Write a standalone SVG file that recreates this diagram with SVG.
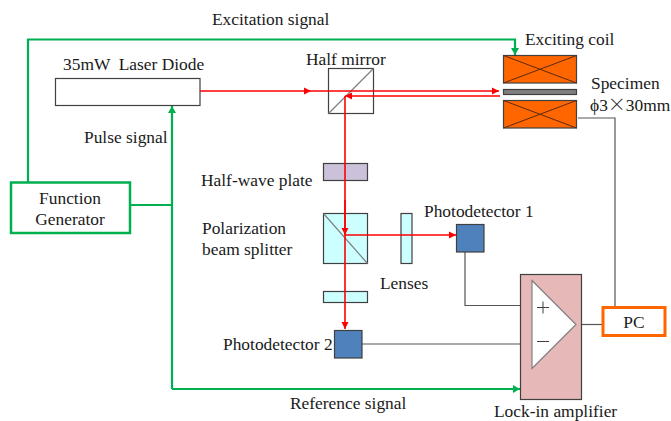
<svg xmlns="http://www.w3.org/2000/svg" width="671" height="421" viewBox="0 0 671 421">
<style>
text{font-family:"Liberation Serif","Times New Roman",serif;font-size:17.4px;fill:#1a1a1a}
.m{text-anchor:middle}
.box{stroke:#404040;stroke-width:1.2}
.diag{stroke:#808080;stroke-width:1.2;fill:none}
.x{stroke:#5a2a10;stroke-width:1;fill:none}
.g{stroke:#00b050;stroke-width:2.2;fill:none}
.r{stroke:#ff0000;stroke-width:1.6;fill:none}
.w{stroke:#555;stroke-width:1.2;fill:none}
.cjk{font-family:"Noto Sans CJK JP",sans-serif;font-size:18px;font-weight:300}
</style>
<defs>
<marker id="ar" markerUnits="userSpaceOnUse" markerWidth="8" markerHeight="8" refX="7" refY="4" orient="auto"><path d="M0,0.5L7,4L0,7.5z" fill="#ff0000"/></marker>
<marker id="ag" markerUnits="userSpaceOnUse" markerWidth="8" markerHeight="8" refX="7" refY="4" orient="auto"><path d="M0,0L7,4L0,8z" fill="#00b050"/></marker>
</defs>
<g id="connectors">
<path class="g" d="M28,182V39.5H515V55" marker-end="url(#ag)"/>
<path class="g" d="M130,205H172"/>
<path class="g" d="M172,389V106" marker-end="url(#ag)"/>
<path class="g" d="M172,389H520" marker-end="url(#ag)"/>
<path class="w" d="M578,118H615V307"/>
<path class="w" d="M465,252V305.5H532"/>
<path class="w" d="M360,344H532"/>
<path class="w" d="M576,324.5H603"/>
</g>
<g id="half-wave-plate"><rect class="box" x="323.5" y="163.5" width="44" height="17" fill="#ccc1da"/><text x="201" y="186">Half-wave plate</text></g>
<g id="pbs"><rect class="box" x="323.5" y="213.5" width="44" height="50" fill="#ccffff"/><path class="diag" d="M323.5,213.5L367.5,263.5"/><text x="202" y="234">Polarization</text><text x="202" y="255">beam splitter</text></g>
<g id="lens-1"><rect class="box" x="401" y="213.5" width="11" height="50" fill="#ccffff"/></g>
<g id="lens-2"><rect class="box" x="323.5" y="291.5" width="44" height="11" fill="#ccffff"/></g>
<text x="380" y="289">Lenses</text>
<g id="half-mirror"><rect class="box" x="328.5" y="68.5" width="45" height="45" fill="#fff"/><path class="diag" d="M328.5,113.5L373.5,68.5"/><text x="306" y="65">Half mirror</text></g>
<g id="laser"><rect class="box" x="55.5" y="78.5" width="144.5" height="27" fill="#fff"/><text x="63" y="70" xml:space="preserve">35mW  Laser Diode</text></g>
<g id="function-generator"><rect x="11" y="182.5" width="119" height="50.5" fill="#fff" stroke="#00b050" stroke-width="2.5"/><text class="m" x="70" y="204">Function</text><text class="m" x="70" y="225">Generator</text></g>
<g id="coil-top"><rect class="box" x="503.5" y="55.5" width="73" height="27.5" fill="#ff6600"/><path class="x" d="M503.5,55.5L576.5,83M576.5,55.5L503.5,83"/><text x="525" y="45">Exciting coil</text></g>
<g id="specimen"><rect class="box" x="503.5" y="89.5" width="73" height="5" fill="#7f7f7f"/><text x="591" y="89">Specimen</text><text x="590" y="111">ϕ3<tspan class="cjk">×</tspan>30mm</text></g>
<g id="coil-bottom"><rect class="box" x="503.5" y="100.5" width="73" height="27.5" fill="#ff6600"/><path class="x" d="M503.5,100.5L576.5,128M576.5,100.5L503.5,128"/></g>
<g id="pd1"><rect class="box" x="456.5" y="224.5" width="27.5" height="27.5" fill="#4f81bd"/><text x="424" y="217">Photodetector 1</text></g>
<g id="pd2"><rect class="box" x="334.5" y="330.5" width="27.5" height="27.5" fill="#4f81bd"/><text x="223" y="350">Photodetector 2</text></g>
<g id="lock-in"><rect class="box" x="520.5" y="274.5" width="61" height="125" fill="#e6b9b8"/><path d="M532,280.5L576,324.5L532,368.5z" fill="#fff" stroke="#808080" stroke-width="1.2"/><path d="M537,307.5H549M543,301.5V313.5M537,341.5H549" stroke="#404040" stroke-width="1" fill="none"/><text x="494" y="416.5">Lock-in amplifier</text></g>
<g id="pc"><rect x="603" y="307.5" width="62" height="28" fill="#fff" stroke="#ff6600" stroke-width="3"/><text class="m" x="634" y="328">PC</text></g>
<g id="beams">
<path class="r" d="M200,91H311" marker-end="url(#ar)"/>
<path class="r" d="M311,91H499" marker-end="url(#ar)"/>
<path class="r" d="M500,96H345" marker-end="url(#ar)"/>
<path class="r" d="M345,96V235"/>
<path class="r" d="M345,200V235" marker-end="url(#ar)"/>
<path class="r" d="M345,235H456" marker-end="url(#ar)"/>
<path class="r" d="M345,235V329" marker-end="url(#ar)"/>
</g>
<text x="212" y="25">Excitation signal</text>
<text x="84" y="143">Pulse signal</text>
<text x="290" y="409">Reference signal</text>
</svg>
